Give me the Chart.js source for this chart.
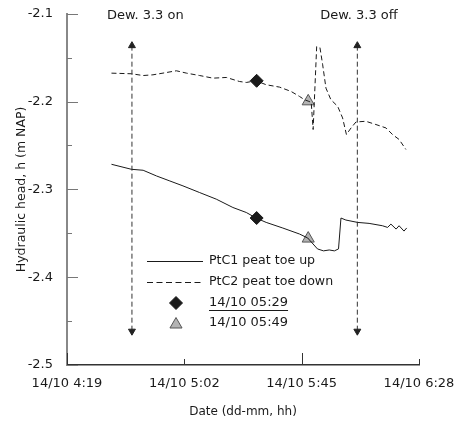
<!DOCTYPE html>
<html>
<head>
<meta charset="utf-8">
<script src="https://cdn.jsdelivr.net/npm/chart.js@4.4.0/dist/chart.umd.min.js"></script>
<style>
  html, body { margin: 0; padding: 0; background: #fff; }
  #wrap { width: 465px; height: 422px; }
</style>
</head>
<body>
<div id="wrap"><canvas id="myChart" width="465" height="422"></canvas></div>
<script>
// time axis: minutes after 14/10 4:19
const xTickPos = [0, 43, 86, 129]
const xTickLabels = ['14/10 4:19', '14/10 5:02', '14/10 5:45', '14/10 6:28']

// PtC1 peat toe up (solid)
const ptc1T = [16.3, 23.6, 27.9, 32.8, 37.7, 42.5, 48.6, 54.7, 60.8, 65.7, 69.3, 73.0, 79.1, 85.2, 88.2, 91.8, 94.0, 96.1, 98.0, 99.5, 100.4, 102.2, 106.5, 110.7, 115.6, 117.5, 118.7, 120.6, 121.7, 123.5, 124.5]
const ptc1H = [-2.2714, -2.2771, -2.2782, -2.2847, -2.2904, -2.2960, -2.3036, -2.3111, -2.3206, -2.3263, -2.3326, -2.3376, -2.3440, -2.3508, -2.3553, -2.3678, -2.3700, -2.3690, -2.3700, -2.3678, -2.3326, -2.3349, -2.3376, -2.3387, -2.3414, -2.3433, -2.3395, -2.3452, -2.3414, -2.3475, -2.3439]

// PtC2 peat toe down (dashed)
const ptc2T = [16.3, 23.6, 27.9, 31.5, 36.4, 40.1, 43.8, 48.6, 53.5, 58.4, 63.2, 65.7, 69.3, 73.0, 77.9, 82.1, 85.2, 87.0, 88.6, 89.5, 90.2, 91.5, 92.7, 93.7, 94.9, 96.7, 99.2, 101.0, 102.4, 104.1, 105.9, 109.5, 113.2, 116.9, 119.3, 121.7, 124.2]
const ptc2H = [-2.1676, -2.1683, -2.1703, -2.1695, -2.1669, -2.1649, -2.1676, -2.1703, -2.1733, -2.1725, -2.1771, -2.1782, -2.1763, -2.1808, -2.1835, -2.1884, -2.1941, -2.1978, -2.1997, -2.2008, -2.2318, -2.1374, -2.1385, -2.1581, -2.1846, -2.1978, -2.2054, -2.2186, -2.2375, -2.2300, -2.2232, -2.2224, -2.2261, -2.2300, -2.2375, -2.2431, -2.2545]

// snapshot markers
const mark1T = 69.5, mark1H = [-2.3326, -2.1763]   // 14/10 05:29
const mark2T = 88.4, mark2H = [-2.3560, -2.1997]   // 14/10 05:49

// dewatering on / off arrows
const dewOnT = 23.8, dewOffT = 106.4
const arrowH = [-2.1363, -2.4615]

const legendLabels = ['PtC1 peat toe up', 'PtC2 peat toe down', '14/10 05:29', '14/10 05:49']

const ink = '#1a1a1a'
const fontFam = '"DejaVu Sans", Verdana, sans-serif'

function pts(ts, hs) { return ts.map((t, i) => ({ x: t, y: hs[i] })) }

// inward ticks on both axes
const innerTicks = {
  id: 'innerTicks',
  afterDraw(chart) {
    const ctx = chart.ctx, x = chart.scales.x, y = chart.scales.y
    ctx.save()
    ctx.strokeStyle = '#333'
    ctx.lineWidth = 1
    const xLen = [12, 6, 12, 6]
    xTickPos.forEach((v, i) => {
      const px = Math.round(x.getPixelForValue(v)) + 0.5
      ctx.beginPath(); ctx.moveTo(px, y.bottom); ctx.lineTo(px, y.bottom - xLen[i]); ctx.stroke()
    })
    ctx.strokeStyle = '#777'
    for (let k = 0; k <= 8; k++) {
      const v = -2.5 + k * 0.05
      const py = Math.round(y.getPixelForValue(v)) + 0.5
      const len = k % 2 === 0 ? 11 : 5
      ctx.beginPath(); ctx.moveTo(x.left, py); ctx.lineTo(x.left + len, py); ctx.stroke()
    }
    ctx.restore()
  }
}

// texts above the arrows + legend inside the plot
const labelsPlugin = {
  id: 'labelsPlugin',
  afterDraw(chart) {
    const ctx = chart.ctx, x = chart.scales.x
    ctx.save()
    ctx.fillStyle = ink
    ctx.textBaseline = 'middle'
    ctx.textAlign = 'left'
    ctx.font = '13px ' + fontFam
    ctx.fillText('Dew. 3.3 on', x.getPixelForValue(dewOnT) - 25, 16)
    ctx.fillText('Dew. 3.3 off', x.getPixelForValue(dewOffT) - 37, 16)

    // legend
    const lx = 147, tx = 209
    const rows = [261, 282, 303, 323]
    ctx.strokeStyle = ink
    ctx.lineWidth = 1
    ctx.beginPath(); ctx.moveTo(lx, rows[0] + 0.5); ctx.lineTo(lx + 56, rows[0] + 0.5); ctx.stroke()
    ctx.setLineDash([6, 3.5])
    ctx.beginPath(); ctx.moveTo(lx, rows[1] + 0.5); ctx.lineTo(lx + 56, rows[1] + 0.5); ctx.stroke()
    ctx.setLineDash([])
    ctx.fillStyle = ink
    Chart.helpers.drawPoint(ctx, { pointStyle: 'rectRot', radius: 6.5, rotation: 0, borderWidth: 1 }, lx + 29, rows[2])
    ctx.fillStyle = '#b3b3b3'
    ctx.strokeStyle = '#555'
    Chart.helpers.drawPoint(ctx, { pointStyle: 'triangle', radius: 7, rotation: 0, borderWidth: 1 }, lx + 29, rows[3] + 1.5)

    ctx.fillStyle = ink
    ctx.font = '12.6px ' + fontFam
    ctx.fillText(legendLabels[0], tx, rows[0])
    ctx.fillText(legendLabels[1], tx, rows[1])
    ctx.font = '13px ' + fontFam
    ctx.fillText(legendLabels[2], tx, rows[2])
    ctx.fillText(legendLabels[3], tx, rows[3])
    const w = ctx.measureText(legendLabels[2]).width
    ctx.strokeStyle = ink
    ctx.beginPath(); ctx.moveTo(tx, rows[2] + 7.5); ctx.lineTo(tx + w, rows[2] + 7.5); ctx.stroke()
    ctx.restore()
  }
}

const ctx = document.getElementById('myChart').getContext('2d')
const myChart = new Chart(ctx, {
  type: 'scatter',
  data: {
    datasets: [
      { label: legendLabels[0], data: pts(ptc1T, ptc1H), showLine: true, borderColor: ink, borderWidth: 1, pointRadius: 0 },
      { label: legendLabels[1], data: pts(ptc2T, ptc2H), showLine: true, borderColor: ink, borderWidth: 1, borderDash: [5, 3], pointRadius: 0 },
      { label: 'on', data: pts([dewOnT, dewOnT], arrowH), showLine: true, borderColor: '#333', borderWidth: 1, borderDash: [5, 3],
        pointStyle: 'triangle', pointRotation: [0, 180], pointRadius: 4, pointBackgroundColor: '#222', pointBorderColor: '#222' },
      { label: 'off', data: pts([dewOffT, dewOffT], arrowH), showLine: true, borderColor: '#333', borderWidth: 1, borderDash: [5, 3],
        pointStyle: 'triangle', pointRotation: [0, 180], pointRadius: 4, pointBackgroundColor: '#222', pointBorderColor: '#222' },
      { label: legendLabels[2], data: pts([mark1T, mark1T], mark1H), pointStyle: 'rectRot', pointRadius: 6.5,
        backgroundColor: ink, borderColor: ink, borderWidth: 1 },
      { label: legendLabels[3], data: pts([mark2T, mark2T], mark2H), pointStyle: 'triangle', pointRadius: 7,
        backgroundColor: '#b3b3b3', borderColor: '#555', borderWidth: 1 }
    ]
  },
  options: {
    responsive: false,
    animation: false,
    layout: { padding: { top: 12, right: 46, left: 0, bottom: 0 } },
    plugins: { legend: { display: false }, tooltip: { enabled: false } },
    scales: {
      x: {
        type: 'linear', min: 0, max: 129,
        afterBuildTicks: (s) => { s.ticks = xTickPos.map(v => ({ value: v })) },
        afterFit: (s) => { s.height = 57 },
        ticks: { color: ink, font: { family: fontFam, size: 13 }, padding: 3, maxRotation: 0,
          callback: (v) => xTickLabels[xTickPos.indexOf(v)] },
        grid: { display: false },
        border: { color: '#333', width: 1.5 },
        title: { display: true, text: 'Date (dd-mm, hh)', color: ink, font: { family: fontFam, size: 12 }, padding: { top: 4, bottom: 3 } }
      },
      y: {
        min: -2.5, max: -2.1,
        afterBuildTicks: (s) => { s.ticks = [-2.5, -2.4, -2.3, -2.2, -2.1].map(v => ({ value: v })) },
        afterFit: (s) => { s.width = 67 },
        ticks: { color: ink, font: { family: fontFam, size: 13 }, padding: 6, callback: (v) => v.toFixed(1) },
        grid: { display: false },
        border: { color: '#888', width: 2 },
        title: { display: true, text: 'Hydraulic head, h (m NAP)', color: ink, font: { family: fontFam, size: 12.5 }, padding: { top: 14, bottom: 0 } }
      }
    }
  },
  plugins: [innerTicks, labelsPlugin]
})
</script>
</body>
</html>
